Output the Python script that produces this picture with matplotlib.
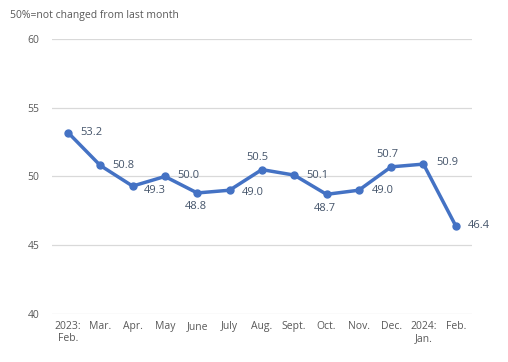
import matplotlib.pyplot as plt

plt.rcParams['font.family'] = ['Open Sans', 'DejaVu Sans']

months = ['2023:\nFeb.', 'Mar.', 'Apr.', 'May', 'June', 'July', 'Aug.',
          'Sept.', 'Oct.', 'Nov.', 'Dec.', '2024:\nJan.', 'Feb.']
values = [53.2, 50.8, 49.3, 50.0, 48.8, 49.0, 50.5, 50.1, 48.7, 49.0, 50.7, 50.9, 46.4]
# label offsets in points (dx, dy)
offsets = [(9, 0), (9, 0), (8, -3), (9, 1), (-1, -10), (9, -2), (-3, 9),
           (9, 0), (-1, -10), (9, 0), (-3, 9), (9, 1), (9, 0)]

fig = plt.figure(figsize=(5.08, 3.62), dpi=100)
ax = fig.add_axes([0.102, 0.133, 0.827, 0.759])

x = list(range(len(values)))
ax.plot(x, values, color='#4472C4', lw=2.5, marker='o', ms=5, zorder=3)

for i, v in enumerate(values):
    dx, dy = offsets[i]
    ax.annotate('%.1f' % v, (i, v), xytext=(dx, dy), textcoords='offset points',
                ha='left' if dx > 2 else 'center', va='center',
                fontsize=8, color='#44546A')

ax.set_xlim(-0.5, len(values) - 0.5)
ax.set_ylim(40, 60)
ax.set_yticks([40, 45, 50, 55, 60])
ax.set_xticks(x)
ax.set_xticklabels(months, fontsize=7.5, color='#595959', va='top')
ax.tick_params(axis='y', labelsize=7.5, colors='#595959', length=0, pad=9)
ax.tick_params(axis='x', length=0, pad=5)
ax.grid(axis='y', color='#D9D9D9', lw=0.9)
ax.set_axisbelow(True)
for s in ax.spines.values():
    s.set_visible(False)

fig.text(0.02, 0.958, '50%=not changed from last month', fontsize=7.5,
         color='#595959', va='center')

fig.savefig('out.png', dpi=100)
